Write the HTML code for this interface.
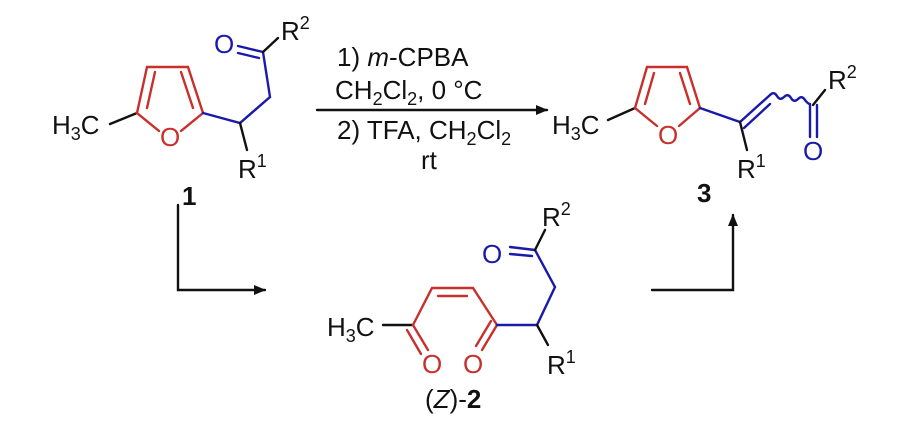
<!DOCTYPE html>
<html><head><meta charset="utf-8"><style>
html,body{margin:0;padding:0;background:#fff;}
svg{display:block;}
text{font-family:"Liberation Sans",sans-serif;font-size:26px;fill:#111;}
.sub{font-size:18px;}
</style></head><body>
<svg width="900" height="437" viewBox="0 0 900 437" xmlns="http://www.w3.org/2000/svg">
<defs><marker id="ah" markerWidth="12" markerHeight="10" refX="11" refY="5" orient="auto" markerUnits="userSpaceOnUse"><path d="M0,0 L12,5 L0,10 z" fill="#111"/></marker></defs>
<g stroke-width="2.4" fill="none" stroke-linecap="round">
<line x1="110" y1="124" x2="137" y2="113" stroke="#111"/>
<g stroke="#c8302c">
<polyline points="159,131 137,113 147,67 188,67 203,113 181,131"/>
<line x1="155" y1="72" x2="147" y2="108"/>
<line x1="181" y1="72" x2="193" y2="108"/>
</g>
<g stroke="#1a1aaa">
<polyline points="203,113 240,123 270,97 263,52"/>
<line x1="238" y1="46" x2="263" y2="52"/>
<line x1="238" y1="53" x2="259" y2="58"/>
</g>
<line x1="263" y1="52" x2="278" y2="38" stroke="#111"/>
<line x1="240" y1="123" x2="247" y2="150" stroke="#111"/>
<line x1="317" y1="110" x2="547" y2="110" stroke="#111" marker-end="url(#ah)"/>
<polyline points="178,205 178,290 265,290" stroke="#111" marker-end="url(#ah)"/>
<polyline points="652,290 733,290 733,215" stroke="#111" marker-end="url(#ah)"/>
<line x1="608" y1="120" x2="635" y2="108" stroke="#111"/>
<g stroke="#c8302c">
<polyline points="657,126 635,108 647,67 687,67 700,108 679,126"/>
<line x1="654" y1="73" x2="645" y2="104"/>
<line x1="680" y1="73" x2="690" y2="104"/>
</g>
<g stroke="#1a1aaa">
<polyline points="700,108 740,122 770,95"/>
<line x1="744" y1="128" x2="770" y2="104"/>
<path d="M770,95 q4,-4 7,1 q3,5 7,1 q4,-4 7,1 q3,5 7,1 q4,-4 7,1 q3,4 5,4"/>
<line x1="810" y1="105" x2="810" y2="137"/>
<line x1="817" y1="105" x2="817" y2="137"/>
</g>
<line x1="813" y1="105" x2="825" y2="90" stroke="#111"/>
<line x1="740" y1="122" x2="747" y2="150" stroke="#111"/>
<line x1="383" y1="325" x2="413" y2="325" stroke="#111"/>
<g stroke="#c8302c">
<polyline points="413,325 432,288 473,288 497,325"/>
<line x1="438" y1="296" x2="467" y2="296"/>
<line x1="413" y1="325" x2="428" y2="350"/>
<line x1="407" y1="330" x2="421" y2="354"/>
<line x1="497" y1="325" x2="482" y2="350"/>
<line x1="491" y1="321" x2="476" y2="346"/>
</g>
<g stroke="#1a1aaa">
<polyline points="497,325 537,325 555,287 535,250"/>
<line x1="510" y1="247" x2="535" y2="250"/>
<line x1="510" y1="254" x2="532" y2="256"/>
</g>
<line x1="535" y1="250" x2="545" y2="230" stroke="#111"/>
<line x1="537" y1="325" x2="548" y2="345" stroke="#111"/>
</g>
<text x="52" y="134">H<tspan class="sub" dy="6">3</tspan><tspan dy="-6">C</tspan></text>
<text x="160" y="146" style="fill:#c8302c">O</text>
<text x="214" y="53" style="fill:#1a1aaa">O</text>
<text x="281" y="40">R<tspan class="sub" dy="-11">2</tspan></text>
<text x="238" y="178">R<tspan class="sub" dy="-11">1</tspan></text>
<text x="182" y="205" style="font-weight:bold">1</text>
<text x="337" y="66">1) <tspan font-style="italic">m</tspan>-CPBA</text>
<text x="335" y="99">CH<tspan class="sub" dy="6">2</tspan><tspan dy="-6">Cl</tspan><tspan class="sub" dy="6">2</tspan><tspan dy="-6">, 0 °C</tspan></text>
<text x="337" y="139">2) TFA, CH<tspan class="sub" dy="6">2</tspan><tspan dy="-6">Cl</tspan><tspan class="sub" dy="6">2</tspan></text>
<text x="421" y="169">rt</text>
<text x="552" y="134">H<tspan class="sub" dy="6">3</tspan><tspan dy="-6">C</tspan></text>
<text x="658" y="144" style="fill:#c8302c">O</text>
<text x="803" y="160" style="fill:#1a1aaa">O</text>
<text x="828" y="89">R<tspan class="sub" dy="-11">2</tspan></text>
<text x="737" y="178">R<tspan class="sub" dy="-11">1</tspan></text>
<text x="697" y="202" style="font-weight:bold">3</text>
<text x="327" y="336">H<tspan class="sub" dy="6">3</tspan><tspan dy="-6">C</tspan></text>
<text x="422" y="373" style="fill:#c8302c">O</text>
<text x="463" y="373" style="fill:#c8302c">O</text>
<text x="482" y="263" style="fill:#1a1aaa">O</text>
<text x="542" y="226">R<tspan class="sub" dy="-11">2</tspan></text>
<text x="547" y="374">R<tspan class="sub" dy="-11">1</tspan></text>
<text x="425" y="408">(<tspan font-style="italic">Z</tspan>)-<tspan font-weight="bold">2</tspan></text>
</svg>
</body></html>
